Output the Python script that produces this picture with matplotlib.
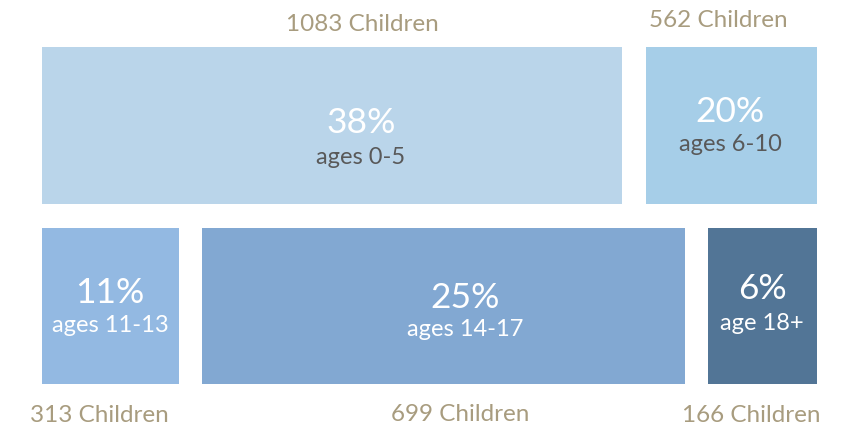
import matplotlib.pyplot as plt
from matplotlib.patches import Rectangle

plt.rcParams['font.family'] = ['Lato', 'DejaVu Sans']

# data
percents = ['38%', '20%', '11%', '25%', '6%']
age_labels = ['ages 0-5', 'ages 6-10', 'ages 11-13', 'ages 14-17', 'age 18+']
children = [1083, 562, 313, 699, 166]

# layout (pixel coords, y down): x0, x1, y0, y1
boxes = [(42, 622, 47, 204), (646, 817, 47, 204),
         (42, 179, 228, 384), (202, 685, 228, 384), (708, 817, 228, 384)]
colors = ['#BAD5EA', '#A6CEE8', '#93B9E2', '#82A8D2', '#527596']
age_colors = ['#595959', '#595959', 'white', 'white', 'white']
text_x = [361, 730, 110, 465, 762]
pct_base = [133, 122, 303, 308, 299]
age_base = [164, 151, 332, 336, 330]
count_x = [362, 718, 99, 460, 751]
count_base = [31, 27, 422, 421, 422]

fig = plt.figure(figsize=(8.52, 4.32), dpi=100)
ax = fig.add_axes([0, 0, 1, 1])
ax.set_xlim(0, 852)
ax.set_ylim(432, 0)
ax.axis('off')

for i in range(len(percents)):
    x0, x1, y0, y1 = boxes[i]
    ax.add_patch(Rectangle((x0, y0), x1 - x0, y1 - y0, color=colors[i], lw=0))
    ax.text(text_x[i], pct_base[i], percents[i], ha='center', va='baseline',
            fontsize=25.5, color='white')
    ax.text(text_x[i], age_base[i], age_labels[i], ha='center', va='baseline',
            fontsize=17, color=age_colors[i])
    ax.text(count_x[i], count_base[i], f'{children[i]} Children', ha='center',
            va='baseline', fontsize=17.5, color='#A89C7F')

fig.savefig('out.png', dpi=100)
